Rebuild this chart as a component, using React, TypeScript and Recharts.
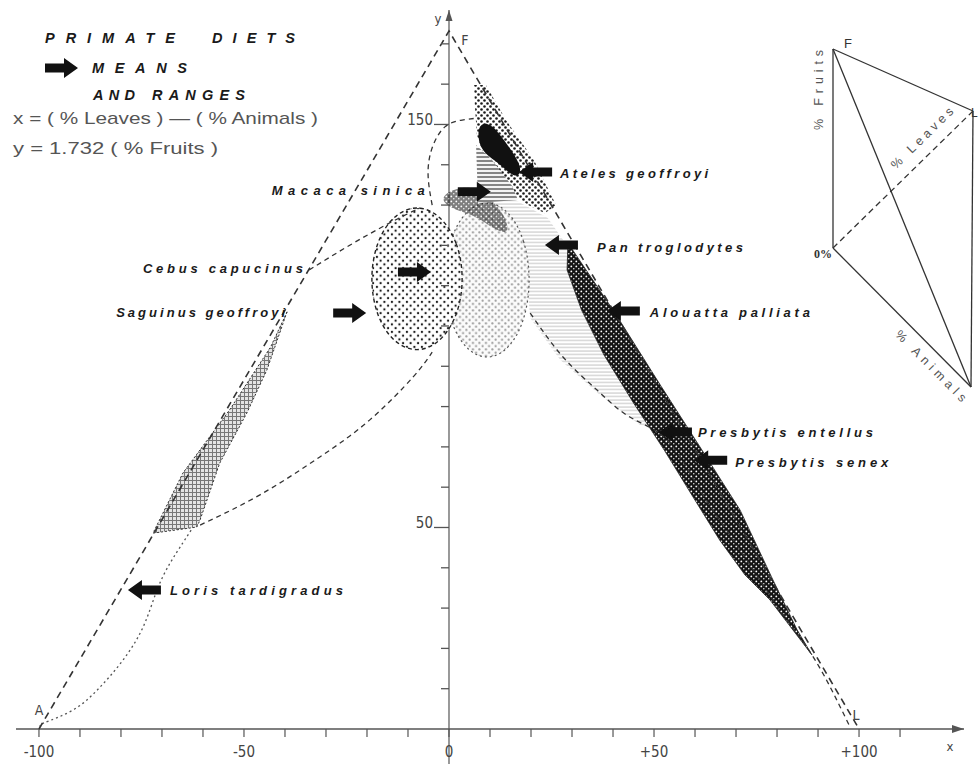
import { ComposedChart, Scatter, XAxis, YAxis, ReferenceLine } from 'recharts'

// x = (% leaves) - (% animals), y = 1.732 (% fruits)
const vertexX = [-100, 0, 100]
const vertexY = [0, 173.2, 0]
const vertexNames = ['A', 'F', 'L']

const xTicks = [-100, -90, -80, -70, -60, -50, -40, -30, -20, -10, 0, 10, 20, 30, 40, 50, 60, 70, 80, 90, 100, 110]
const xLabelValues = [-100, -50, 0, 50, 100]
const xLabelTexts = ['-100', '-50', '0', '+50', '+100']
const yTicks = [10, 20, 30, 40, 50, 60, 70, 80, 90, 100, 110, 120, 130, 140, 150, 160, 170]
const yLabelValues = [50, 150]

const speciesNames = [
  'Macaca sinica', 'Ateles geoffroyi', 'Pan troglodytes', 'Cebus capucinus', 'Saguinus geoffroyi',
  'Alouatta palliata', 'Presbytis entellus', 'Presbytis senex', 'Loris tardigradus',
]
const meanX = [10.2, 17.1, 23.4, -4.4, -20.2, 38.5, 51.2, 59.8, -78.3]
const meanY = [133.3, 138.2, 120.1, 113.4, 103.2, 103.7, 73.7, 66.7, 34.5]
const meanDir = [1, -1, -1, 1, 1, -1, -1, -1, -1]

// ranges
const saguinusRange = [[-39.5, 103.5], [-44.4, 89.1], [-49.3, 78.4], [-55.9, 66.0], [-60.7, 51.9], [-61.5, 50.1], [-72.2, 48.6], [-64.9, 63.5], [-53.5, 79.2], [-43.5, 94.8]]
const lorisEdge = [[-99.5, 0.5], [-98.8, 1.5], [-91.7, 4.7], [-85.1, 10.4], [-79.5, 17.1], [-74.6, 25.3], [-71.2, 34.5], [-68.0, 41.2], [-64.9, 46.2], [-62.4, 50.1]]
const cebusRange = [[3.7, 111.7], [2.2, 120.9], [-2.1, 127.6], [-7.8, 130.1], [-13.6, 127.6], [-17.8, 120.9], [-19.3, 111.7], [-17.8, 102.5], [-13.6, 95.8], [-7.8, 93.3], [-2.1, 95.8], [2.2, 102.5]]
const macacaRange = [[20.0, 111.4], [18.6, 121.4], [14.7, 128.7], [9.3, 131.4], [3.9, 128.7], [0.0, 121.4], [-1.4, 111.4], [0.0, 101.4], [3.9, 94.1], [9.3, 91.4], [14.7, 94.1], [18.6, 101.4]]
const macacaSpeckle = [[-1.5, 133.0], [5.1, 135.2], [10.0, 131.8], [13.7, 127.5], [14.9, 122.6], [11.2, 123.8], [6.3, 127.5], [1.5, 128.8], [-1.5, 130.5]]
const macacaUpper = [[-4.1, 130.0], [-5.1, 137.5], [-4.1, 144.2], [-1.0, 149.4], [3.2, 151.1], [7.1, 151.6]]
const macacaLower = [[19.8, 103.2], [27.8, 92.3], [36.1, 84.1], [44.1, 77.4], [53.2, 71.7], [61.2, 59.3], [71.0, 44.4], [80.7, 29.5], [89.3, 17.1], [97.8, 0.5]]
const cebusUpper = [[-34.1, 113.9], [-24.1, 120.1], [-14.4, 125.6], [-7.1, 129.3]]
const cebusLower = [[-60.7, 50.6], [-46.1, 58.1], [-31.5, 67.5], [-19.3, 76.7], [-8.8, 87.3], [-4.1, 93.5]]
const atelesRange = [[6.1, 159.8], [9.0, 159.8], [13.9, 151.1], [20.7, 141.2], [26.1, 130.0], [23.4, 128.0], [19.3, 130.0], [14.4, 133.7], [9.5, 139.2], [6.8, 147.4], [6.3, 154.8]]
const atelesCore = [[7.1, 150.1], [10.0, 150.6], [13.4, 146.2], [18.3, 139.2], [16.4, 136.2], [12.5, 140.2], [8.6, 142.7], [7.1, 145.7]]
const atelesHatch = [[6.6, 144.9], [10.5, 141.2], [15.4, 134.7], [16.8, 131.3], [7.1, 130.5]]
const panRange = [[7.1, 131.3], [16.1, 131.3], [24.1, 126.8], [29.5, 118.9], [36.8, 107.7], [44.1, 95.3], [51.5, 82.9], [53.9, 74.2], [46.6, 75.4], [36.8, 82.9], [27.1, 91.6], [19.8, 102.0], [18.8, 113.9], [13.7, 125.1]]
const leafBand = [[29.0, 120.6], [40.5, 103.2], [51.5, 85.4], [61.2, 70.0], [71.0, 54.3], [79.0, 37.0], [84.9, 24.6], [88.5, 18.4], [78.3, 32.0], [72.2, 38.2], [66.0, 46.9], [59.5, 57.6], [52.5, 69.2], [45.0, 80.9], [37.8, 92.8], [32.3, 104.0], [28.8, 113.9]]

const labelLayout: Record<string, { dx: number; dy: number; anchor: 'start' | 'end'; w: number }> = {
  'Macaca sinica': { dx: -66, dy: 3.5, anchor: 'end', w: 153 },
  'Ateles geoffroyi': { dx: 41, dy: 5.5, anchor: 'start', w: 148 },
  'Pan troglodytes': { dx: 52, dy: 7, anchor: 'start', w: 146 },
  'Cebus capucinus': { dx: -128, dy: 1, anchor: 'end', w: 160 },
  'Saguinus geoffroyi': { dx: -81, dy: 4, anchor: 'end', w: 169 },
  'Alouatta palliata': { dx: 43, dy: 6, anchor: 'start', w: 160 },
  'Presbytis entellus': { dx: 39, dy: 5, anchor: 'start', w: 175 },
  'Presbytis senex': { dx: 41, dy: 7, anchor: 'start', w: 153 },
  'Loris tardigradus': { dx: 42, dy: 5, anchor: 'start', w: 173 },
}
const vertexLayout: Record<string, { dx: number; dy: number }> = {
  A: { dx: 0, dy: -14 },
  F: { dx: 16, dy: 14 },
  L: { dx: -3, dy: -9 },
}

const X_DOMAIN = [-105.6, 125.6]
const Y_DOMAIN = [0, 178.4]

const axisFont = { fill: '#444', fontSize: 15, fontFamily: "'Liberation Sans Narrow', 'DejaVu Sans Condensed', 'Liberation Sans', sans-serif" }
const boldItalic = { fontFamily: "'Liberation Sans', Arial, sans-serif", fontWeight: 700, fontStyle: 'italic' as const, fill: '#1a1a1a' }
const plainFont = { fontFamily: "'Liberation Sans', Arial, sans-serif", fill: '#555' }

const toPts = (arr: number[][]) => arr.map(([x, y]) => ({ x, y }))
const Nothing = () => <g />

function arrowPath(tx: number, ty: number, d: number) {
  return `M${tx},${ty} L${tx - 14 * d},${ty - 10} L${tx - 14 * d},${ty - 4.5} L${tx - 33 * d},${ty - 4.5} L${tx - 33 * d},${ty + 4.5} L${tx - 14 * d},${ty + 4.5} L${tx - 14 * d},${ty + 10} Z`
}

function MeanArrow(props: any) {
  const { cx, cy, payload } = props
  if (cx == null || cy == null) return <g />
  const lay = labelLayout[payload.name]
  return (
    <g>
      <path d={arrowPath(cx, cy, payload.dir)} fill="#111" />
      <text x={cx + lay.dx} y={cy + lay.dy} textAnchor={lay.anchor} textLength={lay.w} lengthAdjust="spacing" fontSize={13} style={boldItalic}>
        {payload.name}
      </text>
    </g>
  )
}

function YTick(props: any) {
  const { cx, cy, payload } = props
  if (cx == null || cy == null) return <g />
  const labelled = yLabelValues.includes(payload.y)
  return (
    <g>
      <line x1={cx - (labelled ? 15 : 8)} y1={cy} x2={cx} y2={cy} stroke="#555" strokeWidth={1.3} />
      {labelled && (
        <text x={cx - 16} y={cy + 1} textAnchor="end" style={axisFont}>{payload.y}</text>
      )}
    </g>
  )
}

function VertexLabel(props: any) {
  const { cx, cy, payload } = props
  if (cx == null || cy == null) return <g />
  const lay = vertexLayout[payload.name]
  return <text x={cx + lay.dx} y={cy + lay.dy} textAnchor="middle" style={{ ...axisFont, fontSize: 14 }}>{payload.name}</text>
}

function XArrow(props: any) {
  const { cx, cy } = props
  if (cx == null || cy == null) return <g />
  return (
    <g>
      <path d={`M${cx},${cy} L${cx - 12},${cy - 4} L${cx - 12},${cy + 4} Z`} fill="#555" />
      <text x={cx - 14} y={cy + 22} textAnchor="middle" style={{ ...axisFont, fontSize: 13 }}>x</text>
    </g>
  )
}

function YArrow(props: any) {
  const { cx, cy } = props
  if (cx == null || cy == null) return <g />
  return (
    <g>
      <path d={`M${cx},${cy} L${cx - 3.5},${cy + 11} L${cx + 3.5},${cy + 11} Z`} fill="#555" />
      <text x={cx - 11} y={cy + 13} textAnchor="middle" style={{ ...axisFont, fontSize: 13 }}>y</text>
    </g>
  )
}

function region(key: string, pts: number[][], line: any, curve: string = 'linearClosed') {
  return (
    <Scatter
      key={key}
      data={toPts(pts)}
      line={line}
      lineJointType={curve as any}
      shape={Nothing}
      fill="none"
      legendType="none"
      isAnimationActive={false}
    />
  )
}

const dashed = { fill: 'none', stroke: '#333', strokeDasharray: '5 4', strokeWidth: 1.3 }

function Overlay() {
  return (
    <svg width={980} height={764} style={{ position: 'absolute', left: 0, top: 0 }}>
      <defs>
        <pattern id="pCebus" width="7.5" height="7.5" patternUnits="userSpaceOnUse">
          <rect width="7.5" height="7.5" fill="#fff" />
          <circle cx="1.9" cy="1.9" r="1.15" fill="#1a1a1a" />
          <circle cx="5.6" cy="5.6" r="1.15" fill="#1a1a1a" />
        </pattern>
        <pattern id="pMacaca" width="6.5" height="6.5" patternUnits="userSpaceOnUse">
          <rect width="6.5" height="6.5" fill="#fbfbfb" />
          <circle cx="1.6" cy="1.6" r="1.1" fill="#a0a0a0" />
          <circle cx="4.9" cy="4.9" r="1.1" fill="#a0a0a0" />
        </pattern>
        <pattern id="pAteles" width="6" height="6" patternUnits="userSpaceOnUse">
          <rect width="6" height="6" fill="#fff" />
          <circle cx="1.5" cy="1.5" r="1.3" fill="#1a1a1a" />
          <circle cx="4.5" cy="4.5" r="1.3" fill="#1a1a1a" />
        </pattern>
        <pattern id="pSag" width="4" height="4" patternUnits="userSpaceOnUse">
          <rect width="4" height="4" fill="#e4e4e4" />
          <path d="M0,0.5 H4 M0.5,0 V4" stroke="#777" strokeWidth="1" />
        </pattern>
        <pattern id="pPan" width="4" height="3.5" patternUnits="userSpaceOnUse">
          <rect width="4" height="3.5" fill="#fff" />
          <path d="M0,1 H4" stroke="#c8c8c8" strokeWidth="1.1" />
        </pattern>
        <pattern id="pHatchDark" width="4" height="4" patternUnits="userSpaceOnUse">
          <rect width="4" height="4" fill="#f4f4f4" />
          <path d="M0,1 H4" stroke="#555" strokeWidth="1.4" />
        </pattern>
        <pattern id="pBand" width="5" height="5" patternUnits="userSpaceOnUse">
          <rect width="5" height="5" fill="#141414" />
          <circle cx="1.3" cy="1.4" r="0.9" fill="#fff" />
          <circle cx="3.8" cy="3.7" r="0.7" fill="#fff" />
        </pattern>
      </defs>

      {/* title block */}
      <text x={45} y={43} textLength={130} lengthAdjust="spacing" fontSize={14.5} style={boldItalic}>PRIMATE</text>
      <text x={212} y={43} textLength={83} lengthAdjust="spacing" fontSize={14.5} style={boldItalic}>DIETS</text>
      <path d={arrowPath(78, 68, 1)} fill="#111" />
      <text x={92} y={73} textLength={95} lengthAdjust="spacing" fontSize={14.5} style={boldItalic}>MEANS</text>
      <text x={93} y={100} textLength={42} lengthAdjust="spacing" fontSize={14.5} style={boldItalic}>AND</text>
      <text x={152} y={100} textLength={93} lengthAdjust="spacing" fontSize={14.5} style={boldItalic}>RANGES</text>
      <text x={13} y={124} textLength={305} lengthAdjust="spacingAndGlyphs" fontSize={17} style={plainFont}>x = ( % Leaves ) — ( % Animals )</text>
      <text x={13} y={154} textLength={205} lengthAdjust="spacingAndGlyphs" fontSize={17} style={plainFont}>y = 1.732 ( % Fruits )</text>

      {/* orientation sketch */}
      <g stroke="#333" strokeWidth={1.3} fill="none">
        <line x1={833} y1={49} x2={833} y2={248} />
        <line x1={833} y1={49} x2={973} y2={111} />
        <line x1={833} y1={49} x2={971} y2={387} />
        <line x1={833} y1={248} x2={971} y2={387} />
        <line x1={973} y1={111} x2={971} y2={387} />
        <line x1={833} y1={248} x2={973} y2={111} strokeDasharray="6 4" />
      </g>
      <text x={848} y={48} textAnchor="middle" fontSize={13} style={{ ...plainFont, fill: '#333' }}>F</text>
      <text x={971} y={117} textAnchor="start" fontSize={12} style={{ ...plainFont, fill: '#333' }}>L</text>
      <text x={832} y={258} textAnchor="end" fontSize={12} fontWeight={700} style={{ fontFamily: "'Liberation Serif', serif", fill: '#333' }}>0%</text>
      <text x={823} y={90} textAnchor="middle" textLength={80} lengthAdjust="spacing" fontSize={12.5} transform="rotate(-90 823 90)" style={plainFont}>% Fruits</text>
      <text x={925} y={141} textAnchor="middle" textLength={82} lengthAdjust="spacing" fontSize={12.5} transform="rotate(-44.4 925 141)" style={plainFont}>% Leaves</text>
      <text x={928} y={369} textAnchor="middle" textLength={95} lengthAdjust="spacing" fontSize={12.5} transform="rotate(45.2 928 369)" style={plainFont}>% Animals</text>
    </svg>
  )
}

export default function App() {
  const means = speciesNames.map((name, i) => ({ name, x: meanX[i], y: meanY[i], dir: meanDir[i] }))
  const vertices = vertexNames.map((name, i) => ({ name, x: vertexX[i], y: vertexY[i] }))
  const yTickPts = yTicks.map((y) => ({ x: 0, y }))

  return (
    <div style={{ position: 'absolute', left: 0, top: 0, width: 980, height: 764, background: '#fff' }}>
      <Overlay />
      <div style={{ position: 'absolute', left: 0, top: 0 }}>
        <ComposedChart width={980} height={764} margin={{ top: 10, right: 16, bottom: 5, left: 16 }}>
          <XAxis
            type="number"
            dataKey="x"
            domain={X_DOMAIN}
            ticks={xTicks}
            interval={0}
            height={30}
            tickSize={8}
            tickMargin={9}
            tick={axisFont}
            tickLine={{ stroke: '#555', strokeWidth: 1.2 }}
            axisLine={{ stroke: '#555', strokeWidth: 1.5 }}
            tickFormatter={(v: number) => {
              const k = xLabelValues.indexOf(v)
              return k >= 0 ? xLabelTexts[k] : ''
            }}
          />
          <YAxis type="number" dataKey="y" domain={Y_DOMAIN} hide />

          {region('pan', panRange, { fill: 'url(#pPan)', stroke: 'none' })}
          {region('macaca', macacaRange, { fill: 'url(#pMacaca)', stroke: '#555', strokeDasharray: '2 3', strokeWidth: 1.2 }, 'basisClosed')}
          {region('cebus', cebusRange, { fill: 'url(#pCebus)', stroke: '#222', strokeDasharray: '4 3', strokeWidth: 1.4 }, 'basisClosed')}
          {region('macacaSpeckle', macacaSpeckle, { fill: 'url(#pBand)', stroke: 'none', opacity: 0.55 }, 'basisClosed')}
          {region('ateles', atelesRange, { fill: 'url(#pAteles)', stroke: 'none' })}
          {region('atelesHatch', atelesHatch, { fill: 'url(#pHatchDark)', stroke: 'none' })}
          {region('atelesCore', atelesCore, { fill: '#111', stroke: 'none' }, 'basisClosed')}
          {region('leafBand', leafBand, { fill: 'url(#pBand)', stroke: '#222', strokeWidth: 0.8 })}
          {region('saguinus', saguinusRange, { fill: 'url(#pSag)', stroke: '#333', strokeWidth: 1, strokeDasharray: '2 2' })}
          {region('loris', lorisEdge, { fill: 'none', stroke: '#555', strokeDasharray: '2 3', strokeWidth: 1.3 }, 'natural')}
          {region('cebusUpper', cebusUpper, dashed, 'natural')}
          {region('cebusLower', cebusLower, dashed, 'natural')}
          {region('macacaUpper', macacaUpper, dashed, 'natural')}
          {region('macacaLower', macacaLower, dashed, 'natural')}
          {region('triangle', [[vertexX[0], vertexY[0]], [vertexX[1], vertexY[1]], [vertexX[2], vertexY[2]]], { fill: 'none', stroke: '#333', strokeDasharray: '7 5', strokeWidth: 1.6 }, 'linear')}

          <ReferenceLine
            segment={[{ x: 0, y: -9 }, { x: 0, y: Y_DOMAIN[1] }]}
            stroke="#555"
            strokeWidth={1.2}
            ifOverflow="visible"
          />
          <Scatter data={yTickPts} shape={YTick} isAnimationActive={false} legendType="none" />
          <Scatter data={[{ x: X_DOMAIN[1], y: 0 }]} shape={XArrow} isAnimationActive={false} legendType="none" />
          <Scatter data={[{ x: 0, y: Y_DOMAIN[1] }]} shape={YArrow} isAnimationActive={false} legendType="none" />
          <Scatter data={vertices} shape={VertexLabel} isAnimationActive={false} legendType="none" />
          <Scatter data={means} shape={MeanArrow} isAnimationActive={false} legendType="none" />
        </ComposedChart>
      </div>
    </div>
  )
}
